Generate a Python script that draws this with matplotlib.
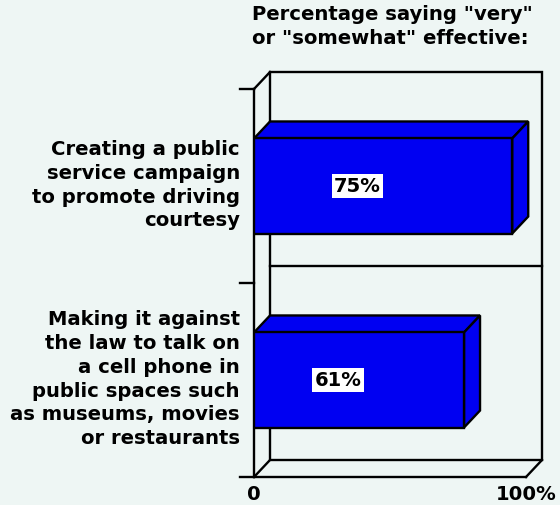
import matplotlib
matplotlib.use('Agg')
import matplotlib.pyplot as plt
from matplotlib import transforms
from matplotlib.patches import Polygon, Rectangle

categories = [
    "Creating a public\nservice campaign\nto promote driving\ncourtesy",
    "Making it against\nthe law to talk on\na cell phone in\npublic spaces such\nas museums, movies\nor restaurants",
]
values = [75, 61]
value_labels = ["75%", "61%"]
tick_values = [0, 79]  # the original scale is drawn this way: its "100%" sits near 79
tick_labels = ["0", "100%"]
title = 'Percentage saying "very"\nor "somewhat" effective:'

BG = '#eef6f4'
BLUE = '#0000f2'
DX, DY = 16, 17  # depth of the fake 3d, in pixels
FONT = dict(family='DejaVu Sans', weight='bold', size=14.1)

fig = plt.figure(figsize=(5.6, 5.06), dpi=100, facecolor=BG)
ax = fig.add_axes([254 / 560, 1 - 478 / 506, 272 / 560, 388 / 506])
ax.set_facecolor('none')
ax.set_xlim(0, 79)
ax.set_ylim(1.5, -0.5)
for s in ax.spines.values():
    s.set_visible(False)
ax.set_yticks([])
ax.set_xticks(tick_values, tick_labels, **FONT)
ax.tick_params(axis='x', length=0, pad=5)

ident = transforms.IdentityTransform()
back = ax.transAxes + transforms.Affine2D().translate(DX, DY)

def pt(x, y, tr=ax.transAxes):
    return tr.transform((x, y))

# back wall + gridline between categories
ax.add_patch(Rectangle((0, 0), 1, 1, transform=back, fill=False, lw=1.7,
                       ec='black', zorder=1, clip_on=False))
ax.plot([0, 1], [0.5, 0.5], transform=back, color='black', lw=1.7, zorder=1, clip_on=False)

# front axis, ticks, floor, and the diagonals
(x0, y0), (x1, y1) = pt(0, 0), pt(1, 1)
ym = pt(0, 0.5)[1]
lines = [
    ([x0, x0], [y0, y1]),
    ([x0 - 14, x0], [y1, y1]),
    ([x0 - 14, x0], [ym, ym]),
    ([x0 - 14, x1], [y0, y0]),
    ([x0, x0 + DX], [y1, y1 + DY]),
    ([x0, x0 + DX], [y0, y0 + DY]),
    ([x1, x1 + DX], [y0, y0 + DY]),
]
for xs, ys in lines:
    ax.plot(xs, ys, transform=ident, color='black', lw=1.7, zorder=2, clip_on=False)

h = 0.49
bars = ax.barh(range(len(values)), values, height=h, color=BLUE,
               edgecolor='black', linewidth=1.7, zorder=4)
for i, v in enumerate(values):
    xl, yt = pt(0, i - h / 2, ax.transData)
    xr, yb = pt(v, i + h / 2, ax.transData)
    top = [(xl, yt), (xr, yt), (xr + DX, yt + DY), (xl + DX, yt + DY)]
    side = [(xr, yt), (xr + DX, yt + DY), (xr + DX, yb + DY), (xr, yb)]
    for poly in (top, side):
        ax.add_patch(Polygon(poly, closed=True, transform=ident, fc=BLUE,
                             ec='black', lw=1.7, zorder=3, clip_on=False))
    ax.text(v * 0.4, i, value_labels[i], ha='center', va='center', zorder=5,
            bbox=dict(fc='white', ec='none', pad=1.5), **FONT)

lab_tr = transforms.offset_copy(ax.transData, fig, x=-14, y=0, units='dots')
for i, c in enumerate(categories):
    ax.text(0, i - 0.01, c, transform=lab_tr, ha='right', va='center',
            linespacing=1.33, **FONT)

fig.text(252 / 560, 1 - 5 / 506, title, ha='left', va='top', linespacing=1.3, **FONT)

fig.savefig('out.png', dpi=100, facecolor=BG)
